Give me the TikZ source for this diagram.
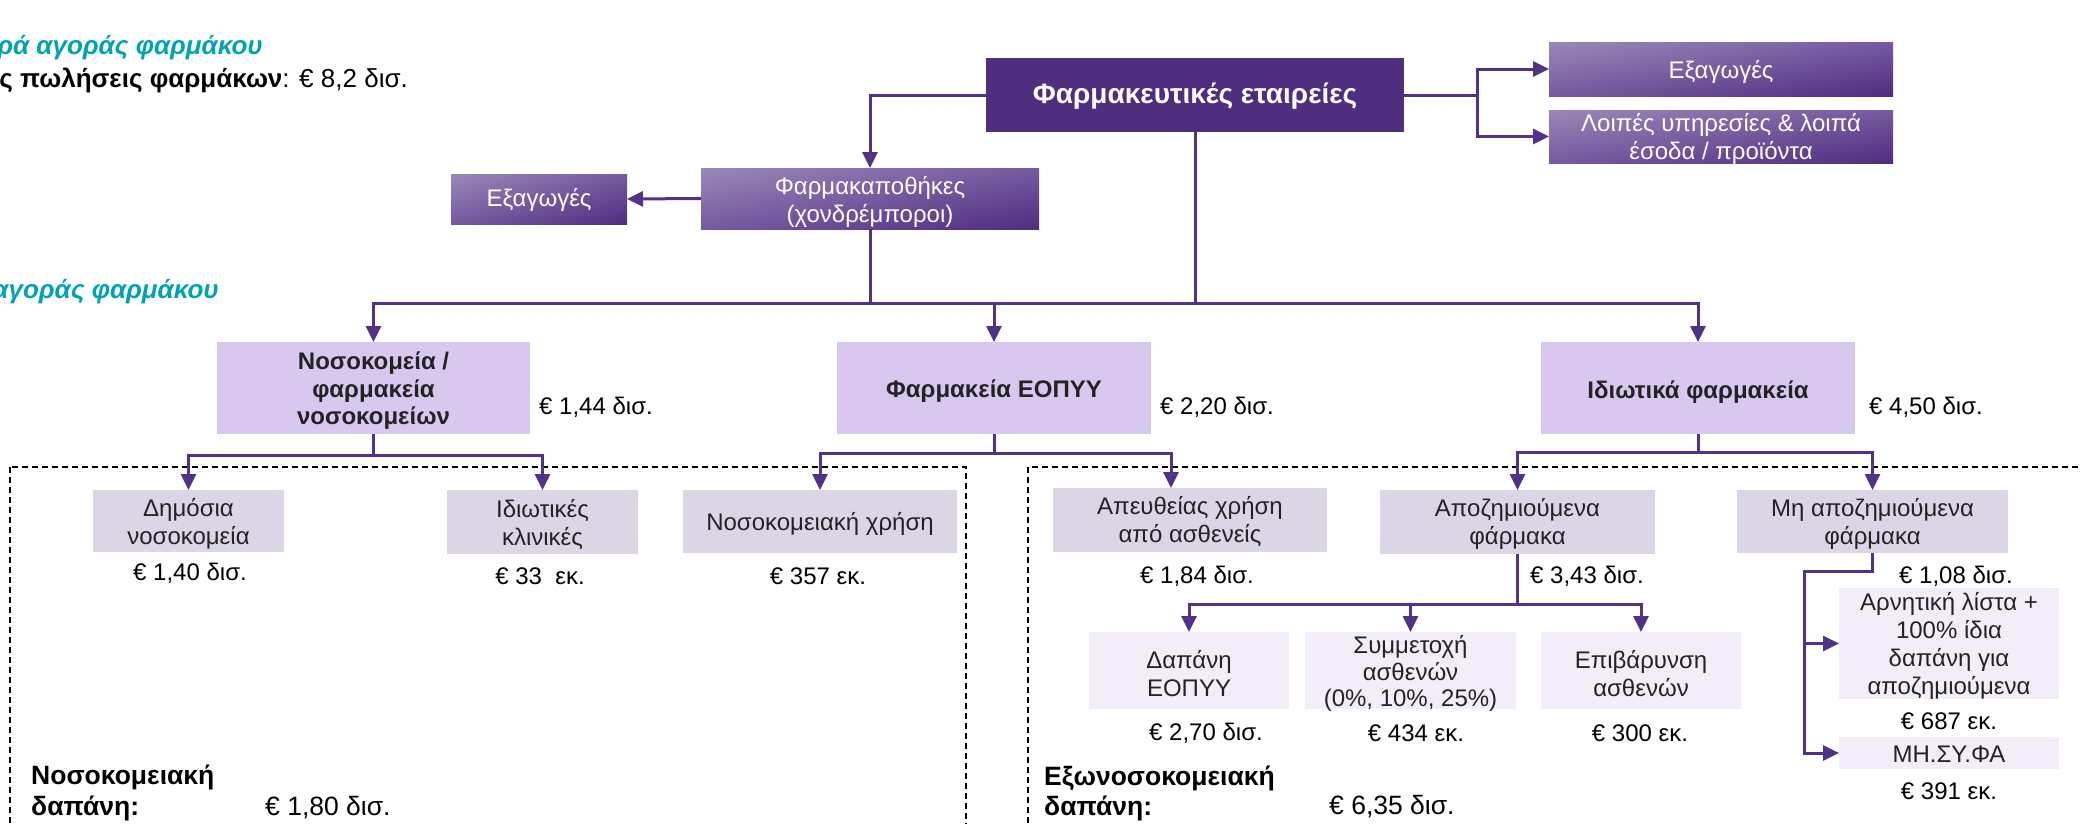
\documentclass[tikz,border=0pt]{standalone}
\usepackage{fontspec}
\setmainfont{Liberation Sans}
\usetikzlibrary{arrows.meta,shadings}
\definecolor{mainpurple}{RGB}{79,45,127}
\definecolor{linepurple}{RGB}{82,50,135}
\definecolor{lvltwo}{RGB}{216,200,240}
\definecolor{lvlthree}{RGB}{220,213,230}
\definecolor{lvlfour}{RGB}{242,237,249}
\definecolor{tealhead}{RGB}{0,163,178}
\definecolor{gradA}{RGB}{154,136,184}
\definecolor{gradB}{RGB}{118,90,160}
\definecolor{gradC}{RGB}{80,44,128}
\definecolor{txtdark}{RGB}{35,35,35}
\newcommand{\fsReg}{\fontsize{24}{28}\selectfont}
\newcommand{\fsBld}{\fontsize{24}{27.5}\selectfont\bfseries}
\newcommand{\fsMain}{\fontsize{28}{31}\selectfont\bfseries}
\newcommand{\fsHead}{\fontsize{26}{30}\selectfont}
\newcommand{\fsTot}{\fontsize{26.5}{30}\selectfont}
\tikzset{
  box/.style={inner sep=0pt, outer sep=0pt},
  gradbox/.style={box, upper left=gradA, upper right=gradB, lower left=gradB, lower right=gradC},
  mainbox/.style={box, fill=mainpurple},
  boxtwo/.style={box, fill=lvltwo},
  boxthree/.style={box, fill=lvlthree},
  boxfour/.style={box, fill=lvlfour},
  txt/.style={inner sep=0pt, align=center, font=\fsReg, text=txtdark},
  wtxt/.style={inner sep=0pt, align=center, font=\fsReg, text=white},
  btxt/.style={inner sep=0pt, align=center, font=\fsBld, text=txtdark},
  val/.style={inner sep=0pt, font=\fsReg, text=black},
  totb/.style={inner sep=0pt, anchor=west, font=\fsTot\bfseries, text=black},
  totv/.style={inner sep=0pt, anchor=west, font=\fsTot, text=black},
  conn/.style={line width=3pt, draw=linepurple},
  tipA/.tip={Triangle[length=16pt,width=15pt]},
  arr/.style={conn, -tipA},
  dashbox/.style={draw=black, line width=1.8pt, dash pattern=on 6pt off 4pt}
}
\begin{document}
\begin{tikzpicture}[x=1pt,y=-1pt]
\useasboundingbox (0,0) rectangle (2081,823);
\clip (0,0) rectangle (2081,823);

% header texts (cut at left edge)
\node[anchor=east, inner sep=0pt, font=\fsHead\bfseries\itshape, text=tealhead] (h1) at (263,48) {ρά αγοράς φαρμάκου};
\node[anchor=east, inner sep=0pt, font=\fsHead, text=black] (h2) at (408,80) {\textbf{ς πωλήσεις φαρμάκων}: € 8,2 δισ.};
\node[anchor=east, inner sep=0pt, font=\fsHead\bfseries\itshape, text=tealhead] (h3) at (219,292) {αγοράς φαρμάκου};

% dashed areas
\draw[dashbox] (10,467) rectangle (966,900);
\draw[dashbox] (1028,467) rectangle (2200,900);

% boxes
\node[mainbox, minimum width=418, minimum height=74] (pharma) at (1195,95) {};
\node[gradbox, minimum width=338, minimum height=61] (whole) at (870,198.5) {};
\node[gradbox, minimum width=176, minimum height=50] (expL) at (539,199) {};
\node[gradbox, minimum width=344, minimum height=54] (expR) at (1721,69) {};
\node[gradbox, minimum width=344, minimum height=53] (other) at (1721,136.5) {};

\node[boxtwo, minimum width=313, minimum height=92] (hosp) at (373.5,388) {};
\node[boxtwo, minimum width=314, minimum height=92] (eopyy) at (994,388) {};
\node[boxtwo, minimum width=314, minimum height=92] (priv) at (1698,388) {};

\node[boxthree, minimum width=191, minimum height=62] (dimosia) at (188.5,521) {};
\node[boxthree, minimum width=191, minimum height=64] (idiotikes) at (542.5,522) {};
\node[boxthree, minimum width=274, minimum height=63] (nosokchrisi) at (820,521.5) {};
\node[boxthree, minimum width=274, minimum height=64] (apeuth) at (1190,520) {};
\node[boxthree, minimum width=275, minimum height=64] (apozim) at (1517.5,522) {};
\node[boxthree, minimum width=271, minimum height=63] (mi) at (1872.5,521.5) {};

\node[boxfour, minimum width=200, minimum height=77] (dapani) at (1189,670.5) {};
\node[boxfour, minimum width=211, minimum height=77] (symm) at (1410.5,670.5) {};
\node[boxfour, minimum width=200, minimum height=77] (epiv) at (1641,670.5) {};
\node[boxfour, minimum width=220, minimum height=111] (arn) at (1949,643.5) {};
\node[boxfour, minimum width=220, minimum height=32] (misyfa) at (1949,753) {};

% connectors
\coordinate (b1) at (0,303);
\coordinate (b2) at (0,455);
\coordinate (b3) at (0,453);
\coordinate (b4) at (0,452);
\coordinate (b5) at (0,604);
\coordinate (rj) at (1477,95);
\coordinate (a3) at (1171,453);
\coordinate (m1) at (1804,571);

\draw[arr] (pharma.west) -| (whole.north);
\draw[arr] (whole.west) -- (expL.east);
\draw[conn] (pharma.east) -- (rj);
\draw[arr] (rj) |- (expR.west);
\draw[arr] (rj) |- (other.west);

\draw[conn] (whole.south) -- (whole.south |- b1);
\draw[conn] (pharma.south) -- (pharma.south |- b1);
\draw[conn, tipA-tipA] (hosp.north) -- (hosp.north |- b1) -- (priv.north |- b1) -- (priv.north);
\draw[arr] (eopyy.north |- b1) -- (eopyy.north);

\draw[conn] (hosp.south) -- (hosp.south |- b2);
\draw[conn, tipA-tipA] (dimosia.north) -- (dimosia.north |- b2) -- (idiotikes.north |- b2) -- (idiotikes.north);

\draw[conn] (eopyy.south) -- (eopyy.south |- b3);
\draw[conn, tipA-tipA] (nosokchrisi.north) -- (nosokchrisi.north |- b3) -- (a3) -- (a3 |- apeuth.north);

\draw[conn] (priv.south) -- (priv.south |- b4);
\draw[conn, tipA-tipA] (apozim.north) -- (apozim.north |- b4) -- (mi.north |- b4) -- (mi.north);

\draw[conn] (apozim.south) -- (apozim.south |- b5);
\draw[conn, tipA-tipA] (dapani.north) -- (dapani.north |- b5) -- (epiv.north |- b5) -- (epiv.north);
\draw[arr] (symm.north |- b5) -- (symm.north);

\draw[arr] (mi.south) -- (mi.south |- m1) -- (m1) -- (m1 |- misyfa.west) -- (misyfa.west);
\draw[arr] (m1 |- arn.west) -- (arn.west);

% texts in boxes
\node[inner sep=0pt, font=\fsMain, text=white] (pharma-t) at (1195,96) {Φαρμακευτικές εταιρείες};
\node[wtxt] (whole-t) at (870,202) {Φαρμακαποθήκες\\(χονδρέμποροι)};
\node[wtxt] (expL-t) at (539,200) {Εξαγωγές};
\node[wtxt] (expR-t) at (1721,72) {Εξαγωγές};
\node[wtxt] (other-t) at (1721,139) {Λοιπές υπηρεσίες \& λοιπά\\έσοδα / προϊόντα};

\node[btxt] (hosp-t) at (373.5,391) {Νοσοκομεία /\\φαρμακεία\\νοσοκομείων};
\node[btxt] (eopyy-t) at (994,391) {Φαρμακεία ΕΟΠΥΥ};
\node[btxt] (priv-t) at (1698,392) {Ιδιωτικά φαρμακεία};

\node[txt] (dimosia-t) at (188.5,524) {Δημόσια\\νοσοκομεία};
\node[txt] (idiotikes-t) at (542.5,525) {Ιδιωτικές\\κλινικές};
\node[txt] (nosokchrisi-t) at (820,524) {Νοσοκομειακή χρήση};
\node[txt] (apeuth-t) at (1190,522) {Απευθείας χρήση\\από ασθενείς};
\node[txt] (apozim-t) at (1517.5,524) {Αποζημιούμενα\\φάρμακα};
\node[txt] (mi-t) at (1872.5,524) {Μη αποζημιούμενα\\φάρμακα};

\node[txt] (dapani-t) at (1189,673.5) {Δαπάνη\\ΕΟΠΥΥ};
\node[txt, font=\fontsize{24}{26.5}\selectfont] (symm-t) at (1410.5,673.5) {Συμμετοχή\\ασθενών\\(0\%, 10\%, 25\%)};
\node[txt] (epiv-t) at (1641,673.5) {Επιβάρυνση\\ασθενών};
\node[txt] (arn-t) at (1949,646) {Αρνητική λίστα +\\100\% ίδια\\δαπάνη για\\αποζημιούμενα};
\node[txt] (misyfa-t) at (1949,754) {ΜΗ.ΣΥ.ΦΑ};

% values
\node[val, anchor=west] (v144) at (539,407) {€ 1,44 δισ.};
\node[val, anchor=west] (v220) at (1160,407) {€ 2,20 δισ.};
\node[val, anchor=west] (v450) at (1869,407) {€ 4,50 δισ.};

\node[val] (v140) at (190,573) {€ 1,40 δισ.};
\node[val] (v33) at (540,576) {€ 33~ εκ.};
\node[val] (v357) at (818,576) {€ 357 εκ.};
\node[val] (v184) at (1197,576) {€ 1,84 δισ.};
\node[val, anchor=west] (v343) at (1530,576) {€ 3,43 δισ.};
\node[val, anchor=west] (v108) at (1899,576) {€ 1,08 δισ.};

\node[val] (v270) at (1206,733) {€ 2,70 δισ.};
\node[val] (v434) at (1416,733) {€ 434 εκ.};
\node[val] (v300) at (1640,733) {€ 300 εκ.};
\node[val] (v687) at (1949,721) {€ 687 εκ.};
\node[val] (v391) at (1949,791) {€ 391 εκ.};

% totals
\node[totb] (tot1a) at (31,777) {Νοσοκομειακή};
\node[totb] (tot1b) at (31,808) {δαπάνη:};
\node[totv] (tot1v) at (265,808) {€ 1,80 δισ.};
\node[totb] (tot2a) at (1044,778) {Εξωνοσοκομειακή};
\node[totb] (tot2b) at (1044,808) {δαπάνη:};
\node[totv] (tot2v) at (1329,807) {€ 6,35 δισ.};
\end{tikzpicture}
\end{document}
